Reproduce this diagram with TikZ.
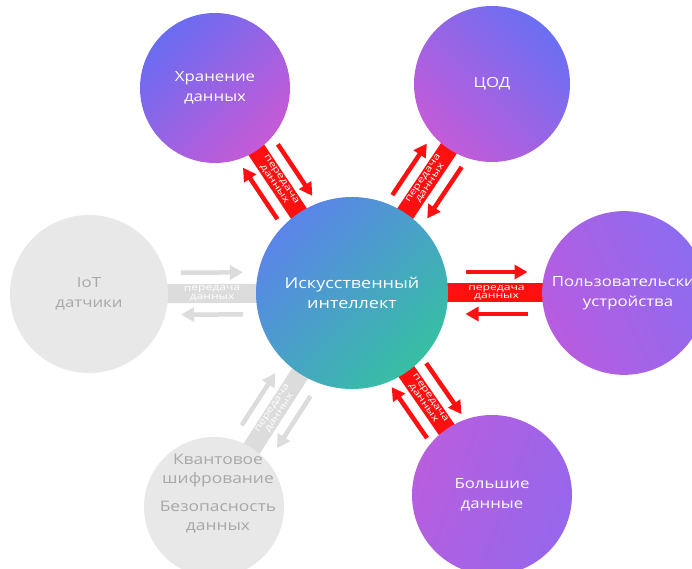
\documentclass[tikz,border=0pt]{standalone}
\usepackage{fontspec}
\setmainfont{Open Sans}[FakeStretch=1.2]
\newfontfamily\bandfont{Open Sans}[FakeStretch=1.35]
\usetikzlibrary{calc,arrows.meta,backgrounds}
\definecolor{rd}{HTML}{FF1010}
\definecolor{gr}{HTML}{DCDCDC}
\definecolor{grtxt}{HTML}{A8A8A8}
\definecolor{grfill}{HTML}{E8E8E8}
\tikzset{
  bubble/.style={circle, inner sep=0pt, align=center, text=white,
    font=\fontsize{14}{20}\selectfont},
  greybubble/.style={bubble, fill=grfill, text=grtxt},
  bandred/.style={draw=rd, line width=19pt},
  bandgrey/.style={draw=gr, line width=19pt},
  bandtext/.style={text=white, align=center, inner sep=0pt,
    font=\bandfont\fontsize{9}{8.5}\selectfont},
  arrred/.style={draw=rd, line width=4.5pt, -{Triangle[length=13pt,width=14pt]}},
  arrgrey/.style={draw=gr, line width=4.5pt, -{Triangle[length=13pt,width=14pt]}},
}
\newcommand{\dataconn}[3]{%
  \draw[band#3] (c.center) -- (#1.center);
  \path ($(c.center)!#2pt!(#1.center)$) -- (#1.center)
    node[pos=0, sloped, bandtext] {передача\\данных};
  \pgfmathsetmacro\cnA{#2-31}\pgfmathsetmacro\cnB{#2+31}%
  \draw[arr#3] ($(c.center)!\cnA pt!(#1.center)!21pt!90:(#1.center)$) --
               ($(c.center)!\cnB pt!(#1.center)!21pt!90:(#1.center)$);
  \draw[arr#3] ($(c.center)!\cnB pt!(#1.center)!21pt!-90:(#1.center)$) --
               ($(c.center)!\cnA pt!(#1.center)!21pt!-90:(#1.center)$);
}
\begin{document}
\begin{tikzpicture}[x=1pt,y=1pt]
\useasboundingbox (0,0) rectangle (692,569);
% circles
\node[bubble, minimum size=192pt, font=\fontsize{15}{20}\selectfont,
  left color={rgb,255:red,91;green,132;blue,234},
  right color={rgb,255:red,54;green,191;blue,163}, shading angle=45]
  (c) at (352,276) {Искусственный\\интеллект};
\node[bubble, minimum size=150pt, left color={rgb,255:red,106;green,108;blue,242},
  right color={rgb,255:red,198;green,90;blue,214}, shading angle=45]
  (tl) at (215,481) {Хранение\\данных};
\node[bubble, minimum size=156pt, left color={rgb,255:red,195;green,91;blue,217},
  right color={rgb,255:red,107;green,111;blue,242}, shading angle=135]
  (tr) at (492,485) {ЦОД};
\node[bubble, minimum size=158pt, left color={rgb,255:red,184;green,92;blue,224},
  right color={rgb,255:red,140;green,108;blue,240}, shading angle=115]
  (r) at (624,276) {\hspace*{8pt}Пользовательские\\\hspace*{8pt}устройства};
\node[bubble, minimum size=160pt, left color={rgb,255:red,184;green,94;blue,222},
  right color={rgb,255:red,150;green,103;blue,236}, shading angle=70]
  (br) at (492,74) {Большие\\данные};
\node[greybubble, minimum size=158pt] (l) at (89,275) {IoT\\датчики};
\node[greybubble, minimum size=140pt] (bl) at (214,62) {};
\node[text=grtxt, align=center, font=\fontsize{14.5}{19}\selectfont]
  (blt) at (218,75) {Квантовое\\шифрование\\[9pt]Безопасность\\данных};
% connectors
\begin{pgfonlayer}{background}
  \fill[white] (0,0) rectangle (692,569);
  \dataconn{tl}{133.8}{red}
  \dataconn{tr}{134.8}{red}
  \dataconn{r}{144.5}{red}
  \dataconn{br}{131}{red}
  \dataconn{l}{140}{grey}
  \dataconn{bl}{140}{grey}
\end{pgfonlayer}
\end{tikzpicture}
\end{document}
